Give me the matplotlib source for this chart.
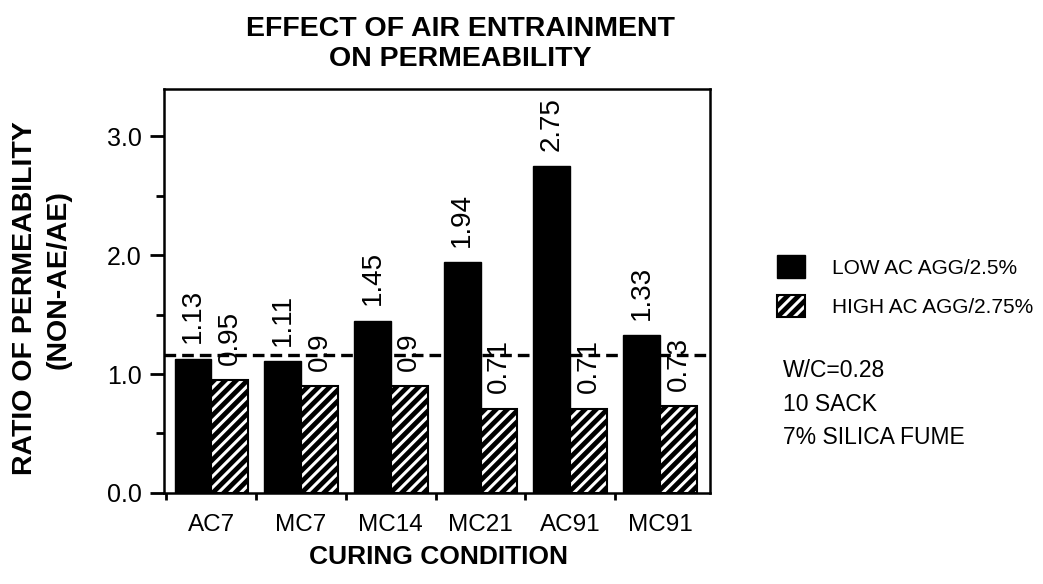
import matplotlib
matplotlib.use("Agg")
import matplotlib.pyplot as plt
from matplotlib.patches import Patch
import numpy as np

conditions = ["AC7", "MC7", "MC14", "MC21", "AC91", "MC91"]
low_ac = [1.13, 1.11, 1.45, 1.94, 2.75, 1.33]
high_ac = [0.95, 0.9, 0.9, 0.71, 0.71, 0.73]
low_labels = ["1.13", "1.11", "1.45", "1.94", "2.75", "1.33"]
high_labels = ["0.95", "0.9", "0.9", "0.71", "0.71", "0.73"]
ref_level = 1.16
series_names = ["LOW AC AGG/2.5%", "HIGH AC AGG/2.75%"]
notes = ["W/C=0.28", "10 SACK", "7% SILICA FUME"]

plt.rcParams["font.family"] = ["Liberation Sans", "DejaVu Sans"]
plt.rcParams["hatch.linewidth"] = 2.2

fig = plt.figure(figsize=(10.43, 5.84), dpi=100)
ax = fig.add_axes([0.157, 0.156, 0.524, 0.692])

x = np.arange(len(conditions))
w = 0.41

ax.bar(x - w / 2, low_ac, w, color="black", edgecolor="black", linewidth=1)
ax.bar(x + w / 2, high_ac, w, color="black", edgecolor="white", hatch="///", linewidth=0)
ax.bar(x + w / 2, high_ac, w, fill=False, edgecolor="black", linewidth=1.5)

# value labels, rotated, above each bar
for xi, v, s in zip(x - w / 2, low_ac, low_labels):
    ax.annotate(s, (xi, v), xytext=(0, 11), textcoords="offset points",
                rotation=90, ha="center", va="bottom", fontsize=20)
for xi, v, s in zip(x + w / 2, high_ac, high_labels):
    ax.annotate(s, (xi, v), xytext=(0, 11), textcoords="offset points",
                rotation=90, ha="center", va="bottom", fontsize=20)

ax.axhline(ref_level, color="black", linestyle=(0, (3.5, 1.8)), linewidth=2.4, zorder=5)

ax.set_xlim(-0.53, 5.56)
ax.set_ylim(0, 3.4)

ax.set_xticks(x)
ax.set_xticklabels(conditions, fontsize=17.5)
ax.set_xticks(x - 0.5, minor=True)
ax.tick_params(axis="x", which="major", length=0, pad=15)
ax.tick_params(axis="x", which="minor", length=5, width=2, direction="out")

ax.set_yticks([0, 1, 2, 3])
ax.set_yticklabels(["0.0", "1.0", "2.0", "3.0"], fontsize=18)
ax.set_yticks([0.5, 1.5, 2.5], minor=True)
ax.tick_params(axis="y", which="major", length=10, width=2, pad=6)
ax.tick_params(axis="y", which="minor", length=6, width=2)

for sp in ax.spines.values():
    sp.set_linewidth(1.8)

fig.text(0.441, 0.925, "EFFECT OF AIR ENTRAINMENT\nON PERMEABILITY", ha="center",
         va="center", fontsize=20.5, fontweight="bold", linespacing=1.2)
fig.text(0.42, 0.046, "CURING CONDITION", ha="center", va="center",
         fontsize=19, fontweight="bold")
fig.text(0.024, 0.49, "RATIO OF PERMEABILITY", rotation=90, ha="center",
         va="center", fontsize=20.5, fontweight="bold")
fig.text(0.056, 0.522, "(NON-AE/AE)", rotation=90, ha="center",
         va="center", fontsize=20.5, fontweight="bold")

solid = Patch(facecolor="black", edgecolor="black")
hatched = (Patch(facecolor="black", edgecolor="white", hatch="///", linewidth=0),
           Patch(fill=False, edgecolor="black", linewidth=1.5))
fig.legend([solid, hatched], series_names, loc="upper left",
           bbox_to_anchor=(0.745, 0.563), frameon=False, fontsize=15,
           handlelength=1.35, handleheight=1.3, handletextpad=1.3,
           labelspacing=0.8, borderpad=0, borderaxespad=0)

for i, line in enumerate(notes):
    fig.text(0.751, 0.365 - i * 0.057, line, ha="left", va="center", fontsize=16.5)

fig.savefig("out.png", dpi=100)
